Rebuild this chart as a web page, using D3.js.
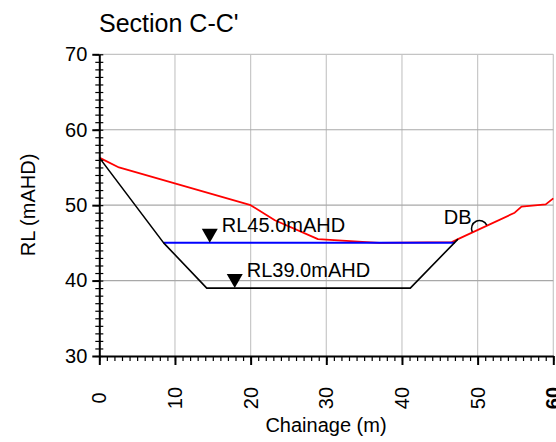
<!DOCTYPE html>
<html>
<head>
<meta charset="utf-8">
<script src="https://cdn.jsdelivr.net/npm/d3@7"></script>
<style>
  body { margin: 0; background: #fff; }
  text { font-family: "Liberation Sans", Arial, sans-serif; fill: #000; }
</style>
</head>
<body>
<div id="chart"></div>
<script>
// *****************************************************************************
// data
// *****************************************************************************
var xTicks = [0, 10, 20, 30, 40, 50, 60];
var yTicks = [30, 40, 50, 60, 70];

// existing ground (red)
var groundX = [0, 2.6, 20, 23.2, 28.9, 35.3, 37, 46.6, 47.4, 54.9, 55.8, 59, 60];
var groundY = [56.3, 55.0, 50.0, 48.0, 45.5, 45.1, 45.0, 45.1, 45.5, 49.0, 49.8, 50.1, 50.9];

// design section (black)
var designX = [0, 8.5, 14.2, 41.1, 47.4];
var designY = [56.3, 45.0, 39.0, 39.0, 45.5];

// water level (blue)
var waterX = [8.5, 47.0];
var waterY = [45.0, 45.0];

// level markers
var markerX = [14.6, 17.9];
var markerY = [45.0, 39.0];
var markerLabels = ["RL45.0mAHD", "RL39.0mAHD"];

// DB point
var dbX = 50.25;
var dbY = 46.9;

// *****************************************************************************
// svg + scales
// *****************************************************************************
var W = 556, H = 442;
var svg = d3.select("#chart").append("svg")
  .attr("width", W).attr("height", H);

var x = d3.scaleLinear().domain([0, 60]).range([99.3, 553.3]);
var y = d3.scaleLinear().domain([30, 70]).range([356, 54.3]);

// *****************************************************************************
// grid
// *****************************************************************************
svg.append("g").selectAll("line")
  .data(xTicks.slice(1))
  .enter().append("line")
  .attr("x1", d => x(d)).attr("x2", d => x(d))
  .attr("y1", y(70)).attr("y2", y(30))
  .attr("stroke", "#c8c8c8").attr("stroke-width", 1.2);

svg.append("g").selectAll("line")
  .data(yTicks.slice(1))
  .enter().append("line")
  .attr("x1", x(0)).attr("x2", x(60))
  .attr("y1", d => y(d)).attr("y2", d => y(d))
  .attr("stroke", d => d == 70 ? "#c4c4c4" : "#a8a8a8").attr("stroke-width", 1.2);

// *****************************************************************************
// lines
// *****************************************************************************
function drawLine(xs, ys, color, w) {
  var pts = xs.map((d, i) => [x(d), y(ys[i])]);
  svg.append("path")
    .attr("d", d3.line()(pts))
    .attr("fill", "none")
    .attr("stroke", color)
    .attr("stroke-width", w)
    .attr("stroke-linejoin", "round");
}
drawLine(groundX, groundY, "#ff0000", 1.8);
drawLine(waterX, waterY, "#0000ff", 2);
drawLine(designX, designY, "#000000", 1.6);

// *****************************************************************************
// level markers
// *****************************************************************************
markerX.forEach(function (mx, i) {
  var px = x(mx), py = y(markerY[i]);
  svg.append("path")
    .attr("d", "M" + (px - 8) + "," + (py - 14) + "L" + (px + 8) + "," + (py - 14) + "L" + px + "," + py + "Z")
    .attr("fill", "#000");
  svg.append("text")
    .attr("x", px + 12).attr("y", py - 11)
    .style("font-size", "20px")
    .text(markerLabels[i]);
});

// *****************************************************************************
// DB
// *****************************************************************************
var dbx = x(dbX), dby = y(dbY);
svg.append("path")
  .attr("d", "M-8,0A8,8 0 0 1 8,0")
  .attr("transform", "translate(" + dbx + "," + dby + ") rotate(-25)")
  .attr("fill", "none").attr("stroke", "#000").attr("stroke-width", 1.5);
svg.append("text")
  .attr("x", dbx - 8).attr("y", dby - 5)
  .attr("text-anchor", "end")
  .style("font-size", "20px")
  .text("DB");

// *****************************************************************************
// axes
// *****************************************************************************
var xMinor = svg.append("g").attr("transform", "translate(0," + y(30) + ")")
  .call(d3.axisBottom(x).tickValues(d3.range(0, 61)).tickSize(5).tickFormat(""));
xMinor.select(".domain").remove();
xMinor.selectAll("line").attr("stroke-width", 1.2);

var xMajor = svg.append("g").attr("transform", "translate(0," + y(30) + ")")
  .call(d3.axisBottom(x).tickValues(xTicks).tickSizeInner(9).tickSizeOuter(0).tickFormat(""));
xMajor.select(".domain").attr("stroke-width", 2);
xMajor.selectAll("line").attr("stroke-width", 2);

var yMinorL = svg.append("g").attr("transform", "translate(" + x(0) + ",0)")
  .call(d3.axisLeft(y).tickValues(d3.range(30, 71)).tickSize(4).tickFormat(""));
yMinorL.select(".domain").remove();
yMinorL.selectAll("line").attr("stroke-width", 1.2);
var yMinorR = svg.append("g").attr("transform", "translate(" + x(0) + ",0)")
  .call(d3.axisRight(y).tickValues(d3.range(30, 71)).tickSize(4).tickFormat(""));
yMinorR.select(".domain").remove();
yMinorR.selectAll("line").attr("stroke-width", 1.2);

var yMajor = svg.append("g").attr("transform", "translate(" + x(0) + ",0)")
  .call(d3.axisLeft(y).tickValues(yTicks).tickSizeInner(7).tickSizeOuter(0).tickPadding(5));
yMajor.select(".domain").attr("stroke-width", 2);
yMajor.selectAll("line").attr("stroke-width", 2);
yMajor.selectAll("text").style("font-size", "20px")
  .style("font-family", '"Liberation Sans", Arial, sans-serif');

// rotated x tick labels
svg.append("g").selectAll("text")
  .data(xTicks)
  .enter().append("text")
  .attr("transform", d => "translate(" + x(d) + ",398) rotate(-90)")
  .attr("text-anchor", "middle")
  .attr("dy", "0.35em")
  .style("font-size", "20px")
  .style("font-weight", d => d == 60 ? "bold" : "normal")
  .text(d => d);

// *****************************************************************************
// titles
// *****************************************************************************
svg.append("text")
  .attr("x", 99).attr("y", 32)
  .style("font-size", "25px")
  .text("Section C-C'");

svg.append("text")
  .attr("x", 326).attr("y", 432)
  .attr("text-anchor", "middle")
  .style("font-size", "20px")
  .text("Chainage (m)");

svg.append("text")
  .attr("transform", "translate(35,205) rotate(-90)")
  .attr("text-anchor", "middle")
  .style("font-size", "20px")
  .text("RL (mAHD)");
</script>
</body>
</html>
